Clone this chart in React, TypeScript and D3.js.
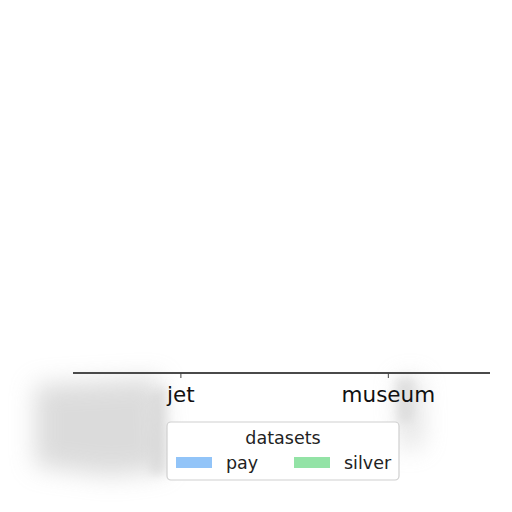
import React from "react";
import * as d3 from "d3";

const categories = ["jet", "museum"];
const seriesNames = ["pay", "silver"];
const payValues = [0, 0];
const silverValues = [0, 0];
const seriesColors = ["#92c4f8", "#93e3a6"];
const legendTitle = "datasets";

const W = 512;
const H = 512;
const FONT = "DejaVu Sans, sans-serif";

export default function App() {
  const x = d3.scaleLinear().domain([-0.52, 1.49]).range([73, 490]);
  const y = d3.scaleLinear().domain([0, 1]).range([373, 60]);
  const barW = x(0.4) - x(0);
  const series = [payValues, silverValues];

  return (
    <svg
      width={W}
      height={H}
      style={{ position: "absolute", left: 0, top: 0, background: "#fff" }}
      fontFamily={FONT}
    >
      <defs>
        <filter id="blur" x="-100%" y="-100%" width="300%" height="300%">
          <feGaussianBlur stdDeviation="12" />
        </filter>
        <filter id="blur2" x="-100%" y="-100%" width="300%" height="300%">
          <feGaussianBlur stdDeviation="5" />
        </filter>
      </defs>
      {/* soft shadow artifacts */}
      <g filter="url(#blur)" opacity={0.6}>
        <path d="M35,385 L160,378 L165,470 L110,476 L35,466 Z" fill="#c4c4c4" />
        <path d="M398,380 L420,378 L422,445 L402,450 Z" fill="#cccccc" />
      </g>
      <g filter="url(#blur2)" opacity={0.5}>
        <path d="M150,395 L166,385 L166,475 L150,475 Z" fill="#cfcfcf" />
        <path d="M395,378 L415,378 L413,420 L398,425 Z" fill="#d0d0d0" />
      </g>
      {/* bars */}
      {series.map((vals, si) =>
        vals.map((v, ci) => (
          <rect
            key={`${si}-${ci}`}
            x={x(ci) - barW + si * barW}
            y={y(v)}
            width={barW}
            height={Math.max(0, y(0) - y(v))}
            fill={seriesColors[si]}
          />
        ))
      )}
      {/* x axis */}
      <line x1={73} x2={490} y1={373} y2={373} stroke="#4a4a4a" strokeWidth={1.8} />
      {categories.map((c, i) => (
        <g key={c} transform={`translate(${x(i)},373)`}>
          <line y1={0} y2={5} stroke="#444" strokeWidth={1} />
          <text y={29} textAnchor="middle" fontSize={21.5} fill="#111">
            {c}
          </text>
        </g>
      ))}
      {/* legend */}
      <g>
        <rect
          x={167}
          y={422}
          width={232}
          height={58}
          rx={4}
          fill="#fff"
          fillOpacity={0.95}
          stroke="#cfcfcf"
          strokeWidth={1.2}
        />
        <text x={283} y={444} textAnchor="middle" fontSize={17.5} fill="#222">
          {legendTitle}
        </text>
        {seriesNames.map((n, i) => (
          <g key={n} transform={`translate(${176 + i * 118},457)`}>
            <rect width={36} height={11} fill={seriesColors[i]} />
            <text x={50} y={12} fontSize={17.5} fill="#222">
              {n}
            </text>
          </g>
        ))}
      </g>
    </svg>
  );
}
